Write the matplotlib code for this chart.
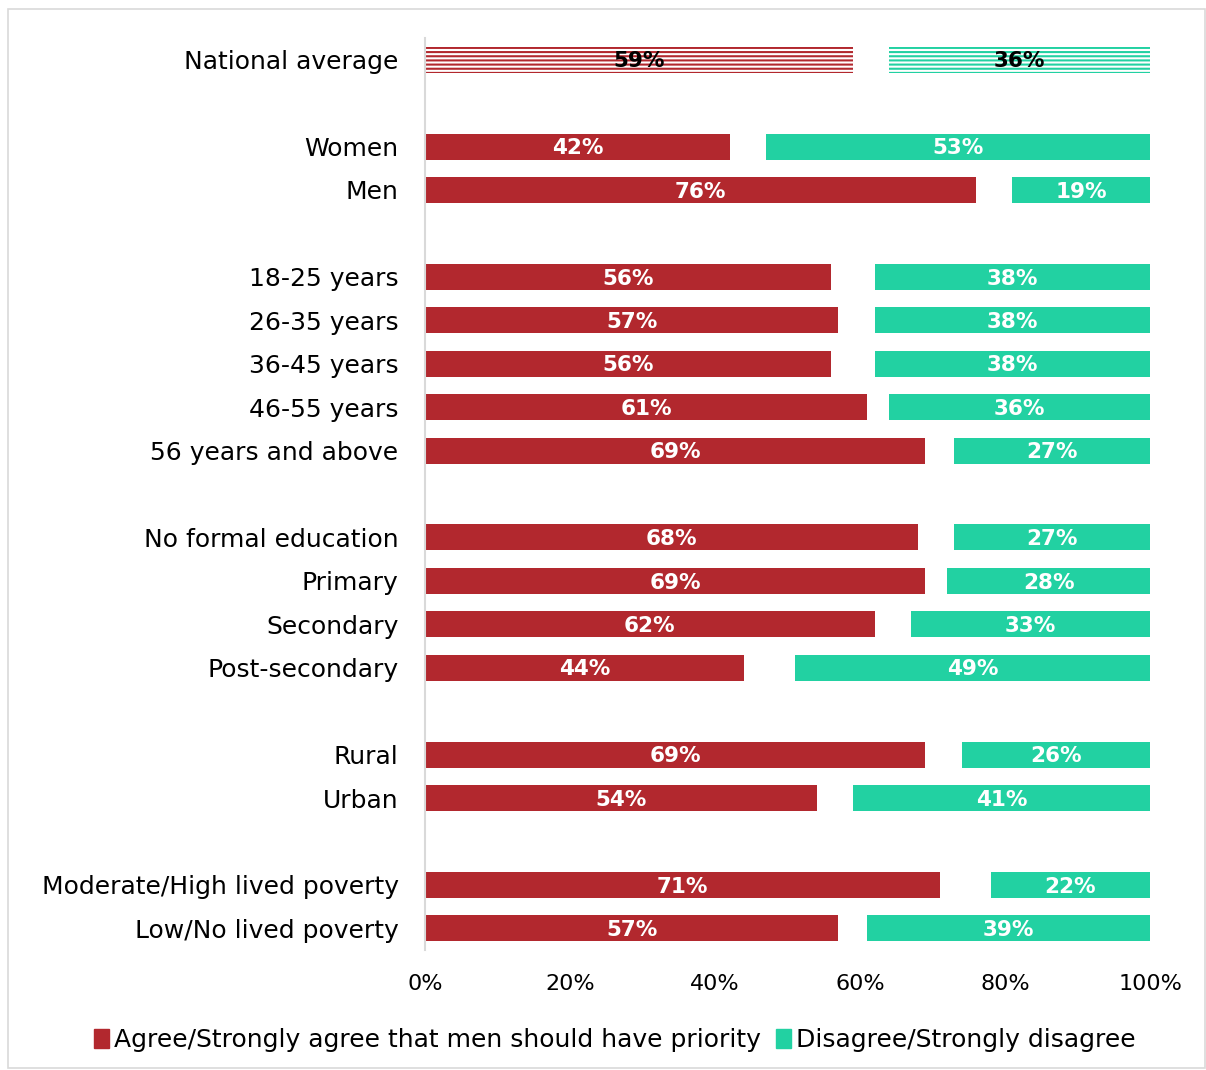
import numpy as np
import matplotlib.pyplot as plt
from matplotlib.patches import Rectangle, Patch

plt.rcParams['font.family'] = ['DejaVu Sans']
plt.rcParams['hatch.linewidth'] = 1.5

groups = ['National average', '',
          'Women', 'Men', '',
          '18-25 years', '26-35 years', '36-45 years', '46-55 years', '56 years and above', '',
          'No formal education', 'Primary', 'Secondary', 'Post-secondary', '',
          'Rural', 'Urban', '',
          'Moderate/High lived poverty', 'Low/No lived poverty']
agree = [59, None, 42, 76, None, 56, 57, 56, 61, 69, None,
         68, 69, 62, 44, None, 69, 54, None, 71, 57]
disagree = [36, None, 53, 19, None, 38, 38, 38, 36, 27, None,
            27, 28, 33, 49, None, 26, 41, None, 22, 39]

red = '#B2282E'
green = '#22D1A2'

fig = plt.figure(figsize=(12.06, 10.70), dpi=100)
ax = fig.add_axes([0.3524, 0.1121, 0.6012, 0.8524])

for i, (a, d) in enumerate(zip(agree, disagree)):
    if a is None:
        continue
    if i == 0:
        # national average drawn with horizontal stripes
        ax.barh(i, a, height=0.6, left=0, facecolor='white', edgecolor=red,
                hatch='----', linewidth=0)
        ax.barh(i, d, height=0.6, left=100 - d, facecolor='white', edgecolor=green,
                hatch='----', linewidth=0)
        tc = 'black'
    else:
        ax.barh(i, a, height=0.6, left=0, color=red)
        ax.barh(i, d, height=0.6, left=100 - d, color=green)
        tc = 'white'
    ax.text(a / 2, i + 0.04, f'{a}%', ha='center', va='center', color=tc,
            fontsize=15.5, fontweight='bold')
    ax.text(100 - d / 2, i + 0.04, f'{d}%', ha='center', va='center', color=tc,
            fontsize=15.5, fontweight='bold')

ax.set_xlim(0, 100)
ax.set_ylim(len(groups) - 0.5, -0.5)
ax.set_yticks(range(len(groups)))
ax.set_yticklabels(groups, fontsize=18)
ax.set_xticks(np.arange(0, 101, 20))
ax.set_xticklabels([f'{v}%' for v in range(0, 101, 20)], fontsize=16)
ax.tick_params(axis='both', length=0)
ax.tick_params(axis='y', pad=19)
ax.tick_params(axis='x', pad=17)
for s in ['top', 'right', 'bottom']:
    ax.spines[s].set_visible(False)
ax.spines['left'].set_color('#D9D9D9')
ax.spines['left'].set_linewidth(1.5)

handles = [Patch(color=red, label='Agree/Strongly agree that men should have priority'),
           Patch(color=green, label='Disagree/Strongly disagree')]
fig.legend(handles=handles, loc='center', bbox_to_anchor=(0.51, 0.028), ncol=2,
           frameon=False, fontsize=18, handlelength=0.6, handleheight=0.8,
           handletextpad=0.2, columnspacing=0.6)

fig.patches.append(Rectangle((0.007, 0.002), 0.992, 0.99, transform=fig.transFigure,
                             fill=False, edgecolor='#D9D9D9', linewidth=1.2))

fig.savefig('out.png', dpi=100)
